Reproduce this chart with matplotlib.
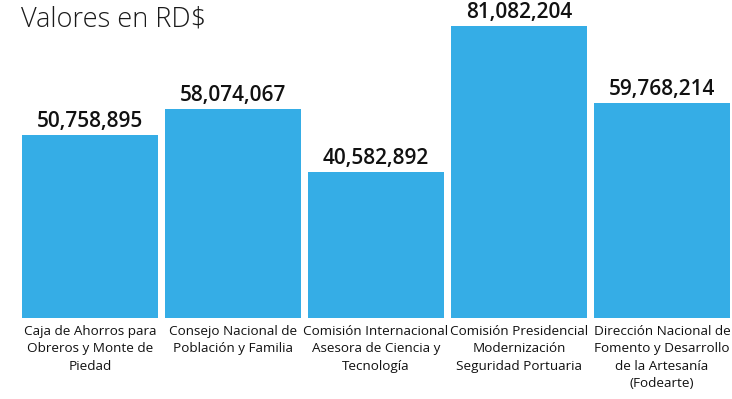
import matplotlib.pyplot as plt

categorias = ["Caja de Ahorros para\nObreros y Monte de\nPiedad",
              "Consejo Nacional de\nPoblación y Familia",
              "Comisión Internacional\nAsesora de Ciencia y\nTecnología",
              "Comisión Presidencial\nModernización\nSeguridad Portuaria",
              "Dirección Nacional de\nFomento y Desarrollo\nde la Artesanía\n(Fodearte)"]
valores = [50758895, 58074067, 40582892, 81082204, 59768214]

W, H = 732, 399
fig = plt.figure(figsize=(W / 100, H / 100), dpi=100)
fig.patch.set_facecolor("white")

# axes placed so bar bottoms sit at y=318 px
ax = fig.add_axes([22 / W, (H - 318) / H, 708 / W, 318 / H])
x = list(range(len(valores)))
ax.bar(x, valores, width=0.951, color="#35ADE6")
ax.set_xlim(-0.475, 4.475)
ax.set_ylim(0, 318 / 3.6 * 1e6)
ax.axis("off")

for xi, v in zip(x, valores):
    ax.annotate(f"{v:,}", (xi, v), xytext=(0, 2), textcoords="offset points",
                ha="center", va="bottom", fontsize=15, fontweight="semibold",
                family="Open Sans", color="#111111", annotation_clip=False)

for xi, lab in zip(x, categorias):
    ax.annotate(lab, (xi, 0), xytext=(0, -5), textcoords="offset points",
                ha="center", va="top", fontsize=9.7, family="Open Sans",
                color="#111111", linespacing=1.45, annotation_clip=False)

fig.text(21 / W, 1 - 6 / H, "Valores en RD$", ha="left", va="top",
         fontsize=19.5, fontweight="light", family="Open Sans", color="#1a1a1a")

fig.savefig("out.png", dpi=100)
